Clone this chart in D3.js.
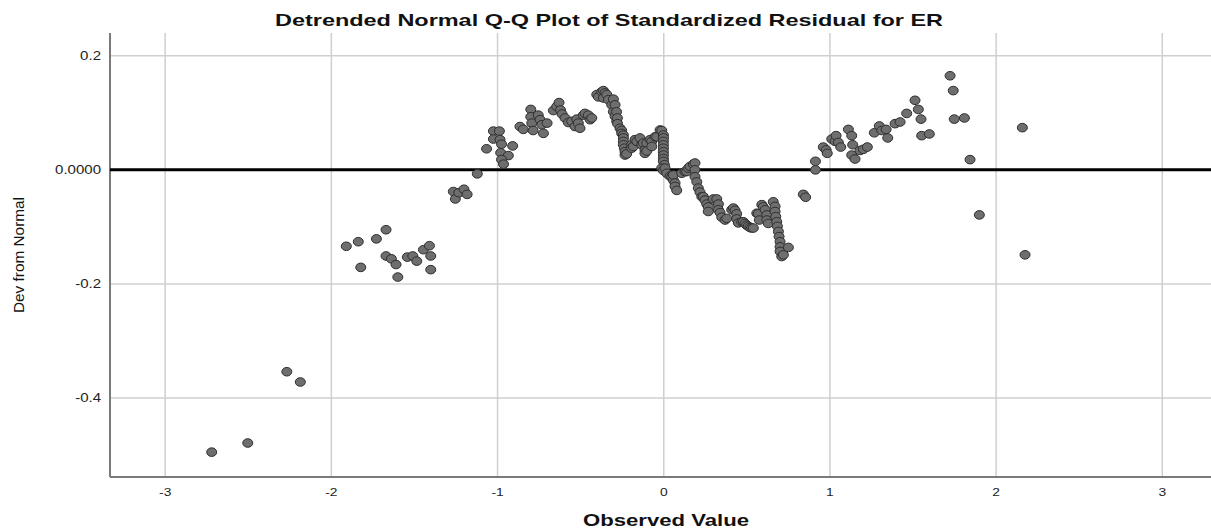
<!DOCTYPE html>
<html>
<head>
<meta charset="utf-8">
<script src="https://cdn.jsdelivr.net/npm/d3@7"></script>
<style>
  body { margin: 0; background: #fff; }
  svg { display: block; font-family: "Liberation Sans", Arial, sans-serif; }
</style>
</head>
<body>
<svg id="chart"></svg>
<script>
const width = 1211;
const height = 531;

const chartTitle = "Detrended Normal Q-Q Plot of Standardized Residual for ER";
const xTitle = "Observed Value";
const yTitle = "Dev from Normal";

const xTicks = [-3, -2, -1, 0, 1, 2, 3];
const yTicks = [0.2, 0, -0.2, -0.4];
const yTickLabels = ["0.2", "0.0000", "-0.2", "-0.4"];

// observed value (standardized residual)
const observed = [
  -2.720, -2.503, -2.268, -2.187, -1.910, -1.838, -1.823, -1.729, -1.671, -1.671,
  -1.639, -1.611, -1.600, -1.543, -1.510, -1.486, -1.446, -1.410, -1.402, -1.402,
  -1.266, -1.254, -1.233, -1.202, -1.183, -1.122, -1.066, -1.025, -0.989, -1.025,
  -0.985, -0.976, -0.909, -0.981, -0.935, -0.976, -0.964, -0.865, -0.845, -0.800,
  -0.800, -0.794, -0.786, -0.755, -0.744, -0.734, -0.724, -0.702, -0.664, -0.644,
  -0.630, -0.621, -0.612, -0.594, -0.574, -0.554, -0.534, -0.523, -0.514, -0.504,
  -0.484, -0.474, -0.454, -0.443, -0.433, -0.403, -0.393, -0.373, -0.363, -0.353,
  -0.363, -0.343, -0.333, -0.313, -0.303, -0.303, -0.293, -0.293, -0.284, -0.283,
  -0.279, -0.278, -0.263, -0.253, -0.253, -0.243, -0.243, -0.243, -0.243, -0.237,
  -0.233, -0.233, -0.223, -0.193, -0.193, -0.183, -0.173, -0.162, -0.143, -0.132,
  -0.123, -0.113, -0.113, -0.102, -0.102, -0.082, -0.072, -0.072, -0.052, -0.042,
  -0.022, -0.012, -0.002, -0.002, -0.002, -0.002, -0.002, -0.002, -0.002, -0.002,
  -0.002, 0.004, -0.012, -0.002, 0.008, 0.018, 0.038, 0.048, 0.058, 0.058,
  0.068, 0.068, 0.078, 0.108, 0.128, 0.138, 0.148, 0.158, 0.178, 0.188,
  0.188, 0.188, 0.199, 0.208, 0.218, 0.229, 0.238, 0.248, 0.259, 0.268,
  0.268, 0.298, 0.319, 0.329, 0.329, 0.339, 0.349, 0.369, 0.379, 0.409,
  0.419, 0.429, 0.439, 0.439, 0.449, 0.469, 0.479, 0.489, 0.499, 0.509,
  0.519, 0.529, 0.539, 0.560, 0.569, 0.575, 0.590, 0.599, 0.610, 0.620,
  0.620, 0.629, 0.659, 0.670, 0.670, 0.674, 0.680, 0.684, 0.690, 0.694,
  0.700, 0.700, 0.700, 0.710, 0.720, 0.750, 0.840, 0.854, 0.913, 0.913,
  0.960, 0.977, 0.984, 1.011, 1.031, 1.037, 1.051, 1.065, 1.111, 1.131,
  1.137, 1.131, 1.151, 1.181, 1.201, 1.225, 1.267, 1.297, 1.312, 1.338,
  1.348, 1.392, 1.422, 1.462, 1.512, 1.532, 1.548, 1.552, 1.598, 1.723,
  1.742, 1.748, 1.809, 1.843, 1.899, 2.158, 2.174
];

// deviation from normal
const deviation = [
  -0.495, -0.479, -0.354, -0.372, -0.134, -0.126, -0.171, -0.121, -0.105, -0.151,
  -0.156, -0.166, -0.188, -0.153, -0.151, -0.160, -0.140, -0.133, -0.151, -0.175,
  -0.038, -0.051, -0.040, -0.034, -0.043, -0.007, 0.037, 0.068, 0.068, 0.054,
  0.053, 0.045, 0.042, 0.030, 0.025, 0.018, 0.010, 0.076, 0.071, 0.106,
  0.093, 0.082, 0.069, 0.096, 0.088, 0.079, 0.064, 0.082, 0.104, 0.111,
  0.118, 0.105, 0.098, 0.091, 0.083, 0.085, 0.076, 0.089, 0.082, 0.073,
  0.096, 0.099, 0.096, 0.088, 0.091, 0.132, 0.128, 0.137, 0.139, 0.135,
  0.126, 0.132, 0.123, 0.114, 0.124, 0.102, 0.114, 0.094, 0.102, 0.085,
  0.091, 0.081, 0.073, 0.069, 0.064, 0.061, 0.056, 0.050, 0.044, 0.038,
  0.032, 0.026, 0.028, 0.044, 0.038, 0.041, 0.053, 0.050, 0.056, 0.044,
  0.047, 0.035, 0.029, 0.047, 0.033, 0.053, 0.050, 0.041, 0.058, 0.058,
  0.070, 0.069, 0.061, 0.056, 0.050, 0.044, 0.038, 0.032, 0.026, 0.020,
  0.015, 0.009, 0.003, -0.001, 0.003, -0.006, -0.011, -0.012, -0.018, -0.009,
  -0.023, -0.029, -0.036, -0.006, -0.003, -0.003, 0.003, 0.006, 0.010, 0.012,
  0.000, -0.012, -0.021, -0.032, -0.039, -0.047, -0.047, -0.053, -0.060, -0.065,
  -0.073, -0.051, -0.051, -0.060, -0.070, -0.075, -0.083, -0.088, -0.085, -0.070,
  -0.067, -0.071, -0.077, -0.086, -0.093, -0.091, -0.091, -0.094, -0.097, -0.099,
  -0.101, -0.102, -0.102, -0.076, -0.077, -0.088, -0.061, -0.065, -0.070, -0.079,
  -0.088, -0.094, -0.056, -0.064, -0.073, -0.082, -0.091, -0.099, -0.108, -0.117,
  -0.126, -0.135, -0.143, -0.152, -0.149, -0.136, -0.043, -0.048, 0.015, 0.000,
  0.040, 0.035, 0.029, 0.054, 0.050, 0.060, 0.048, 0.040, 0.071, 0.060,
  0.044, 0.026, 0.019, 0.034, 0.036, 0.040, 0.065, 0.077, 0.069, 0.071,
  0.056, 0.081, 0.084, 0.099, 0.122, 0.106, 0.089, 0.060, 0.063, 0.165,
  0.139, 0.089, 0.091, 0.018, -0.079, 0.074, -0.149
];

const points = observed.map((d, i) => ({ x: d, y: deviation[i] }));

// plot area
const plotLeft = 110, plotRight = width, plotTop = 33, plotBottom = 477;

const x = d3.scaleLinear()
            .domain([-3.332, 3.293])
            .range([plotLeft, plotRight]);
const y = d3.scaleLinear()
            .domain([-0.5386, 0.240])
            .range([plotBottom, plotTop]);

const svg = d3.select("#chart")
              .attr("width", width)
              .attr("height", height);

svg.append("rect")
    .attr("width", width)
    .attr("height", height)
    .attr("fill", "#fff");

// gridlines
svg.append("g")
    .selectAll("line")
    .data(xTicks)
    .enter()
    .append("line")
        .attr("x1", d => x(d))
        .attr("x2", d => x(d))
        .attr("y1", plotTop)
        .attr("y2", plotBottom)
        .attr("stroke", "#cfcfcf")
        .attr("stroke-width", 1.5);

svg.append("g")
    .selectAll("line")
    .data(yTicks.filter(d => d !== 0))
    .enter()
    .append("line")
        .attr("x1", plotLeft)
        .attr("x2", plotRight)
        .attr("y1", d => y(d))
        .attr("y2", d => y(d))
        .attr("stroke", "#cfcfcf")
        .attr("stroke-width", 1.5);

// axis lines
svg.append("line")
    .attr("x1", plotLeft).attr("x2", plotLeft)
    .attr("y1", plotTop).attr("y2", plotBottom)
    .attr("stroke", "#7a7a7a")
    .attr("stroke-width", 2);
svg.append("line")
    .attr("x1", plotLeft).attr("x2", plotRight)
    .attr("y1", plotBottom).attr("y2", plotBottom)
    .attr("stroke", "#7a7a7a")
    .attr("stroke-width", 2);

// reference line at zero
svg.append("line")
    .attr("x1", plotLeft).attr("x2", plotRight)
    .attr("y1", y(0)).attr("y2", y(0))
    .attr("stroke", "#000")
    .attr("stroke-width", 3);

// tick labels
const tickLabels = svg.append("g").classed("ticks", true);

tickLabels.selectAll(".xtick")
    .data(xTicks)
    .enter()
    .append("text")
        .classed("xtick", true)
        .attr("x", d => x(d))
        .attr("y", 496)
        .attr("text-anchor", "middle")
        .attr("font-size", 11.5)
        .attr("fill", "#222")
        .text(d => d);

tickLabels.selectAll(".ytick")
    .data(yTicks)
    .enter()
    .append("text")
        .classed("ytick", true)
        .attr("x", 101)
        .attr("y", d => y(d))
        .attr("dy", "0.35em")
        .attr("text-anchor", "end")
        .attr("font-size", 12.5)
        .attr("fill", "#222")
        .text((d, i) => yTickLabels[i]);

// stretch tick labels a little, the reference is wider than it is tall
tickLabels.selectAll("text").each(function() {
    const len = this.getComputedTextLength();
    d3.select(this)
        .attr("textLength", len * 1.2)
        .attr("lengthAdjust", "spacingAndGlyphs");
});

// points
svg.append("g")
    .selectAll("ellipse")
    .data(points)
    .enter()
    .append("ellipse")
        .attr("cx", d => x(d.x))
        .attr("cy", d => y(d.y))
        .attr("rx", 5)
        .attr("ry", 4.3)
        .attr("fill", "#6e6e6e")
        .attr("stroke", "#2e2e2e")
        .attr("stroke-width", 1);

// titles
svg.append("text")
    .attr("x", 275)
    .attr("y", 26)
    .attr("font-size", 17)
    .attr("font-weight", "bold")
    .attr("textLength", 668)
    .attr("lengthAdjust", "spacingAndGlyphs")
    .attr("fill", "#111")
    .text(chartTitle);

svg.append("text")
    .attr("x", 666)
    .attr("y", 526)
    .attr("text-anchor", "middle")
    .attr("font-size", 16)
    .attr("font-weight", "bold")
    .attr("textLength", 166)
    .attr("lengthAdjust", "spacingAndGlyphs")
    .attr("fill", "#111")
    .text(xTitle);

svg.append("text")
    .attr("transform", "translate(24,255) rotate(-90)")
    .attr("text-anchor", "middle")
    .attr("font-size", 15)
    .attr("textLength", 116)
    .attr("lengthAdjust", "spacingAndGlyphs")
    .attr("fill", "#111")
    .text(yTitle);
</script>
</body>
</html>
